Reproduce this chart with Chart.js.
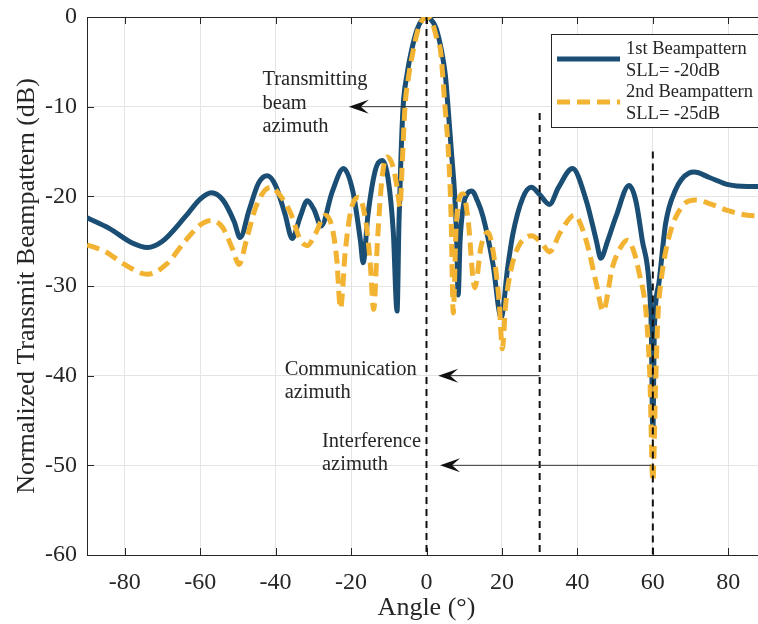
<!DOCTYPE html>
<html>
<head>
<meta charset="utf-8">
<script src="https://cdn.jsdelivr.net/npm/chart.js@4.4.0/dist/chart.umd.min.js"></script>
<style>
    body { margin: 0; overflow: hidden; background: #fff; }
    #wrap { width: 776px; height: 624px; }
</style>
</head>
<body>
<div id="wrap"><canvas id="beamChart"></canvas></div>
<script>
// angle (deg) and normalized gain (dB)
var angle1 = [-90, -84, -78, -74, -70, -64, -60, -57, -54, -51, -49.4, -47, -44.5, -42.2, -40, -37.5, -35.6,
    -33.5, -31.6, -29.8, -27.9, -25, -22, -19.5, -17.5, -16.8, -15.5, -13.5, -11.8, -10.2, -8.8, -7.8,
    -7.3, -6.8, -6.2, -5.2, -4, -2.5, -1, 0, 1, 2.5, 4, 5, 5.7, 6.6, 7.5, 8, 8.4, 8.9, 9.8, 11, 12, 13.5,
    15, 17.6, 19.8, 21.5, 22.9, 25.5, 27.8, 30, 32.6, 35, 38.7, 42.3, 45, 46.2, 48, 50.2, 53.7, 55.5,
    57.2, 59, 59.6, 60, 60.4, 61.6, 63.4, 66, 69.6, 71, 75, 80, 85, 90];
var gain1 = [-22.4, -23.6, -25.2, -25.7, -25.0, -22.3, -20.3, -19.6, -20.4, -22.8, -24.6, -21.5, -18.5, -17.7, -18.8, -22, -24.7,
    -22.3, -20.5, -21.5, -23.3, -19.5, -16.9, -19.5, -25, -27.4, -22, -17, -16.0, -18, -24, -32.8,
    -23, -16, -10, -6.5, -3.8, -1.4, -0.2, 0, -0.2, -1.2, -3.8, -6.5, -10, -15, -20, -25, -31, -25, -21, -19.6, -19.4, -20.5,
    -22.3, -27.5, -33.5, -28, -24.2, -20.2, -19, -19.8, -20.9, -19, -16.9, -20.4, -24.9, -26.9, -25, -22.3, -18.8, -20.5,
    -24.9, -29.7, -35, -46.5, -35, -29.7, -23, -19.3, -17.4, -17.3, -17.9, -18.7, -18.9, -18.9];

var angle2 = [-90, -85, -80, -74, -69, -64, -60, -57, -54, -51.5, -49.7, -47.8, -45.5, -43, -41.3, -39, -36,
    -33.5, -31.6, -29.5, -26.8, -25, -23.8, -22.8, -21.5, -20, -18, -16.2, -15, -14, -13, -11.8, -10.5,
    -9, -7.8, -7, -6.5, -5.7, -4.8, -3.5, -2, 0, 1.5, 3, 3.7, 4.9, 5.8, 6.5, 7.1, 7.8, 8.7, 9.7, 11,
    12.8, 14.5, 16.3, 17.8, 19.3, 20.1, 21, 22.5, 24.5, 27.8, 30.5, 32.6, 35.5, 39.2, 42.3, 45, 46.8,
    49.3, 51.6, 53.3, 55, 56.4, 58.2, 59.2, 60, 60.8, 61.4, 62.1, 64.3, 67.8, 71.4, 75, 80, 85, 90];
var gain2 = [-25.4, -26.2, -27.6, -28.7, -27.6, -25.0, -23.2, -22.7, -23.5, -25.8, -27.6, -25, -21.5, -19.4, -19.0, -19.8, -21.9,
    -24.8, -25.5, -24.2, -22.1, -23.5, -27, -32.5, -26, -21.5, -20.1, -22.5, -27, -32.6, -25, -18, -15.6,
    -16.5, -19, -21.2, -17, -10, -6.8, -3.7, -1.1, 0, -0.6, -2.8, -3.7, -10, -15, -22, -33, -24, -20.2, -19.7, -22.5,
    -30.2, -25.5, -24, -26.5, -32, -37, -32, -28, -25.5, -24.4, -25.2, -26.2, -24, -22.1, -24.9, -29.7, -32.8,
    -27.9, -25.6, -24.9, -26.2, -28.6, -33, -40, -51.8, -40, -33, -29.7, -24.5, -21.1, -20.4, -20.8, -21.6, -22.1, -22.2];

var xTicks = [-80, -60, -40, -20, 0, 20, 40, 60, 80];
var yTicks = [0, -10, -20, -30, -40, -50, -60];

var seriesLabels = [['1st Beampattern', 'SLL= -20dB'], ['2nd Beampattern', 'SLL= -25dB']];

// vertical dashed marker lines: angle and the dB level they start from
var markerAngles = [0, 30, 60];
var markerTops = [0, -10.7, -15];

// arrow notes (data coords)
var notes = [
    { lines: ['Transmitting', 'beam', 'azimuth'], from: 0, to: -20.6, level: -10, textX: -43.5, textY: -7.0 },
    { lines: ['Communication', 'azimuth'], from: 30, to: 3.1, level: -40, textX: -37.6, textY: -39.3 },
    { lines: ['Interference', 'azimuth'], from: 59.5, to: 3.6, level: -50, textX: -27.7, textY: -47.3 }
];

var blue = '#1A4E74';
var yellow = '#F2B333';
var ink = '#262626';
var serif = "'Liberation Serif', 'Times New Roman', serif";

function toPoints(xs, ys) {
    return xs.map(function(x, i) {
        return { x: x, y: ys[i] };
    });
}

function arrow(ctx, x1, x2, y) {
    ctx.strokeStyle = '#333';
    ctx.lineWidth = 1;
    ctx.setLineDash([]);
    ctx.beginPath();
    ctx.moveTo(x1, y);
    ctx.lineTo(x2 + 10, y);
    ctx.stroke();
    ctx.fillStyle = '#111';
    ctx.beginPath();
    ctx.moveTo(x2, y);
    ctx.lineTo(x2 + 20, y - 7);
    ctx.lineTo(x2 + 12, y);
    ctx.lineTo(x2 + 20, y + 7);
    ctx.closePath();
    ctx.fill();
}

var framePlugin = {
    id: 'frame',
    beforeDatasetsDraw: function(chart) {
        var ctx = chart.ctx, a = chart.chartArea;
        var xs = chart.scales.x, ys = chart.scales.y;
        ctx.save();
        ctx.strokeStyle = ink;
        ctx.lineWidth = 1;
        ctx.beginPath();
        ctx.moveTo(a.left, a.top + 0.5);
        ctx.lineTo(a.right, a.top + 0.5);
        xTicks.forEach(function(t) {
            var x = Math.round(xs.getPixelForValue(t)) + 0.5;
            ctx.moveTo(x, a.bottom);
            ctx.lineTo(x, a.bottom - 7);
            ctx.moveTo(x, a.top);
            ctx.lineTo(x, a.top + 7);
        });
        yTicks.forEach(function(t) {
            var y = Math.round(ys.getPixelForValue(t)) + 0.5;
            ctx.moveTo(a.left, y);
            ctx.lineTo(a.left + 7, y);
        });
        ctx.stroke();
        ctx.restore();
    },
    afterDatasetsDraw: function(chart) {
        var ctx = chart.ctx, a = chart.chartArea;
        var xs = chart.scales.x, ys = chart.scales.y;
        ctx.save();

        // dashed marker lines
        ctx.strokeStyle = '#111';
        ctx.lineWidth = 2;
        ctx.setLineDash([7, 5]);
        markerAngles.forEach(function(m, i) {
            var x = xs.getPixelForValue(m);
            ctx.beginPath();
            ctx.moveTo(x, ys.getPixelForValue(markerTops[i]));
            ctx.lineTo(x, a.bottom);
            ctx.stroke();
        });

        // arrows + notes
        ctx.font = '20.5px ' + serif;
        ctx.textBaseline = 'middle';
        ctx.textAlign = 'left';
        notes.forEach(function(n) {
            arrow(ctx, xs.getPixelForValue(n.from), xs.getPixelForValue(n.to), ys.getPixelForValue(n.level));
            ctx.fillStyle = ink;
            var tx = xs.getPixelForValue(n.textX);
            var ty = ys.getPixelForValue(n.textY);
            n.lines.forEach(function(line, k) {
                ctx.fillText(line, tx, ty + k * 23.5);
            });
        });

        // legend box
        var bx = a.right - 215, by = 34, bw = 230, bh = 93;
        ctx.setLineDash([]);
        ctx.fillStyle = '#fff';
        ctx.fillRect(bx, by, bw, bh);
        ctx.strokeStyle = ink;
        ctx.lineWidth = 1;
        ctx.strokeRect(bx + 0.5, by + 0.5, bw, bh);
        ctx.font = '18.5px ' + serif;
        chart.data.datasets.forEach(function(ds, i) {
            var ly = by + 25 + i * 43;
            ctx.strokeStyle = ds.borderColor;
            ctx.lineWidth = 5;
            ctx.setLineDash(ds.borderDash || []);
            ctx.beginPath();
            ctx.moveTo(bx + 6, ly);
            ctx.lineTo(bx + 69, ly);
            ctx.stroke();
            ctx.fillStyle = ink;
            ctx.fillText(seriesLabels[i][0], bx + 75, ly - 10);
            ctx.fillText(seriesLabels[i][1], bx + 75, ly + 12);
        });
        ctx.restore();
    }
};

var config = {
    type: 'line',
    data: {
        datasets: [{
            label: seriesLabels[0].join(' '),
            data: toPoints(angle1, gain1),
            borderColor: blue,
            borderWidth: 5,
            order: 1
        }, {
            label: seriesLabels[1].join(' '),
            data: toPoints(angle2, gain2),
            borderColor: yellow,
            borderWidth: 5,
            borderDash: [13, 7],
            order: 0
        }]
    },
    options: {
        responsive: true,
        maintainAspectRatio: false,
        animation: false,
        events: [],
        elements: {
            point: { radius: 0 },
            line: { cubicInterpolationMode: 'monotone', fill: false, borderJoinStyle: 'round' }
        },
        layout: {
            padding: { top: 17, right: 10, left: 0, bottom: 0 }
        },
        plugins: {
            legend: { display: false },
            tooltip: { enabled: false }
        },
        scales: {
            x: {
                type: 'linear',
                min: -90,
                max: 90,
                afterBuildTicks: function(scale) {
                    scale.ticks = xTicks.map(function(v) { return { value: v }; });
                },
                afterFit: function(scale) {
                    scale.height = 69;
                    scale.paddingLeft = 0;
                    scale.paddingRight = 0;
                },
                grid: { color: '#e4e4e4', drawTicks: false },
                border: { display: true, color: ink, width: 1 },
                ticks: {
                    padding: 13,
                    color: ink,
                    font: { family: serif, size: 24 },
                    maxRotation: 0
                },
                title: {
                    display: true,
                    text: 'Angle (°)',
                    color: ink,
                    font: { family: serif, size: 26 },
                    padding: { top: 0, bottom: 0 }
                }
            },
            y: {
                min: -60,
                max: 0,
                afterBuildTicks: function(scale) {
                    scale.ticks = yTicks.map(function(v) { return { value: v }; });
                },
                afterFit: function(scale) {
                    scale.width = 87;
                    scale.paddingTop = 0;
                    scale.paddingBottom = 0;
                },
                grid: { color: '#e4e4e4', drawTicks: false },
                border: { display: true, color: ink, width: 1 },
                ticks: {
                    padding: 10,
                    color: ink,
                    font: { family: serif, size: 24 }
                },
                title: {
                    display: true,
                    text: 'Normalized Transmit Beampattern (dB)',
                    color: ink,
                    font: { family: serif, size: 26 },
                    padding: { top: 12, bottom: 0 }
                }
            }
        }
    },
    plugins: [framePlugin]
};

var beamChart = new Chart(document.getElementById('beamChart'), config);
</script>
</body>
</html>
